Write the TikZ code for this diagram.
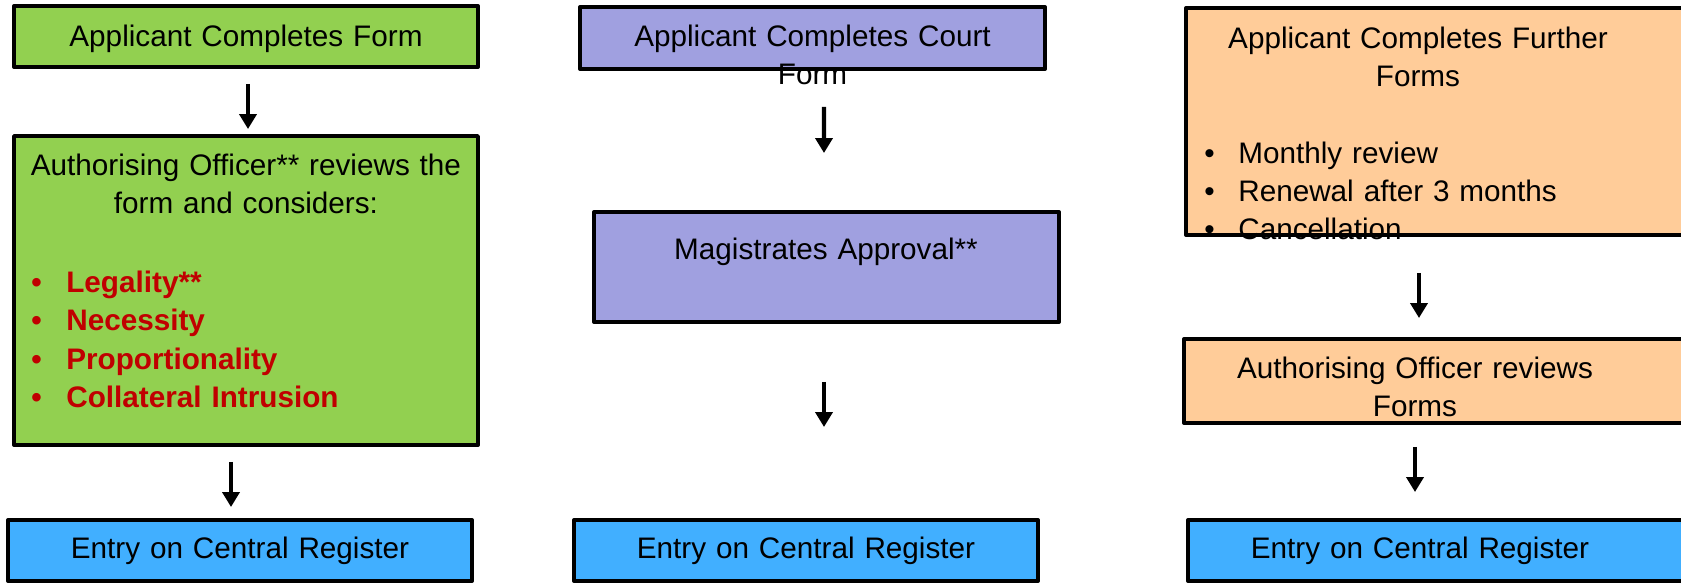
\documentclass[tikz,border=0pt]{standalone}
\usepackage{fontspec}
\setmainfont{Liberation Sans}
\usetikzlibrary{arrows.meta}

\begin{document}
\begin{tikzpicture}[x=0.02cm,y=-0.02cm,
	box/.style={rectangle, inner sep=0pt, outer sep=0pt},
	frame/.style={draw=black, line width=0.08cm, line join=round},
	txt/.style={inner sep=0pt, font=\fontsize{16.9}{21.8}\selectfont, text width=10cm, align=center, anchor=base},
	items/.style={inner sep=0pt, font=\fontsize{16.9}{21.8}\selectfont, text width=10cm, align=left, anchor=base west},
	flow/.style={-{Triangle[width=0.34cm,length=0.3cm]}, line width=0.085cm}]
	\definecolor{formgreen}{RGB}{146,208,80}
	\definecolor{courtblue}{RGB}{160,160,224}
	\definecolor{renewpeach}{RGB}{255,204,153}
	\definecolor{registerblue}{RGB}{65,175,255}
	\definecolor{legalred}{RGB}{192,0,0}
	\useasboundingbox (0,0) rectangle (1681,585);
	\clip (0,0) rectangle (1681,585);
	% left column: internal authorisation
	\node at (246,36.5) [box, fill=formgreen, minimum width=9.28cm, minimum height=1.22cm] (form) {};
	\node at (246,290.5) [box, fill=formgreen, minimum width=9.28cm, minimum height=6.18cm] (review) {};
	\node at (240,550.5) [box, fill=registerblue, minimum width=9.28cm, minimum height=1.22cm] (entryA) {};
	% middle column: court route
	\node at (812.5,38) [box, fill=courtblue, minimum width=9.3cm, minimum height=1.24cm] (court) {};
	\node at (826.5,267) [box, fill=courtblue, minimum width=9.3cm, minimum height=2.2cm] (magis) {};
	\node at (806,550.5) [box, fill=registerblue, minimum width=9.28cm, minimum height=1.22cm] (entryB) {};
	% right column: further forms
	\node at (1453,121.5) [box, fill=renewpeach, minimum width=10.68cm, minimum height=4.54cm] (further) {};
	\node at (1452,381) [box, fill=renewpeach, minimum width=10.72cm, minimum height=1.68cm] (officer) {};
	\node at (1454,550.5) [box, fill=registerblue, minimum width=10.64cm, minimum height=1.22cm] (entryC) {};

	\node at (246,46) [txt] (formtext) {Applicant Completes Form};
	\node at (246,175) [txt] (reviewtext) {Authorising Officer** reviews the\\form and considers:};
	\node at (31,292) [items, text=legalred, font=\fontsize{16.9}{22}\selectfont\bfseries] (reviewlist)
		{\makebox[0.7cm][l]{\textbullet}Legality**\\
		 \makebox[0.7cm][l]{\textbullet}Necessity\\
		 \makebox[0.7cm][l]{\textbullet}Proportionality\\
		 \makebox[0.7cm][l]{\textbullet}Collateral Intrusion};
	\node at (240,558) [txt] (entryAtext) {Entry on Central Register};

	\node at (812.5,46) [txt] (courttext) {Applicant Completes Court\\Form};
	\node at (826,259) [txt] (magistext) {Magistrates Approval**};
	\node at (806,558) [txt] (entryBtext) {Entry on Central Register};

	\node at (1418,48) [txt] (furthertext) {Applicant Completes Further\\Forms};
	\node at (1204,163) [items] (furtherlist)
		{\makebox[0.68cm][l]{\textbullet}Monthly review\\
		 \makebox[0.68cm][l]{\textbullet}Renewal after 3 months\\
		 \makebox[0.68cm][l]{\textbullet}Cancellation};
	\node at (1415,378) [txt] (officertext) {Authorising Officer reviews\\Forms};
	\node at (1420,558) [txt] (entryCtext) {Entry on Central Register};

	% outlines go on top of the text
	\foreach \b in {form,review,entryA,court,magis,entryB,further,officer,entryC}
		\draw[frame] (\b.south west) rectangle (\b.north east);

	% arrows
	\draw[flow] ([shift={(2,17)}]form.south) -- ([shift={(2,-7)}]review.north);
	\draw[flow] ([shift={(-15,17)}]review.south) -- ([shift={(-9,-13)}]entryA.north);
	\draw[flow] ([shift={(11.5,38)}]court.south) -- ([shift={(-2.5,-59)}]magis.north);
	\draw[flow] ([shift={(-2.5,60)}]magis.south) -- ([shift={(18,-93)}]entryB.north);
	\draw[flow] ([shift={(-34,38)}]further.south) -- ([shift={(-33,-21)}]officer.north);
	\draw[flow] ([shift={(-37,24)}]officer.south) -- ([shift={(-39,-28)}]entryC.north);
\end{tikzpicture}
\end{document}
